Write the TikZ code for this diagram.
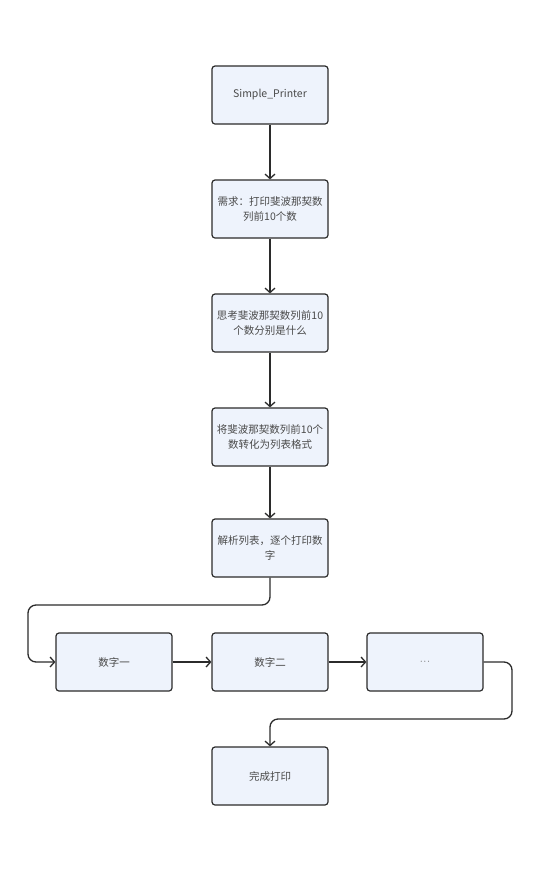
\documentclass[tikz,border=0pt]{standalone}
\usepackage{fontspec}
\setmainfont{Noto Sans CJK SC}
\usetikzlibrary{arrows.meta}
\definecolor{boxline}{HTML}{2B2B2B}
\definecolor{boxfill}{HTML}{EEF3FC}
\definecolor{textgray}{HTML}{4A4A4A}
\tikzset{
  stepbox/.style={draw=boxline, fill=boxfill, rounded corners=3pt, line width=1.2pt,
    minimum width=116pt, minimum height=58pt, inner sep=2pt, align=center,
    text=textgray, font=\fontsize{10.5}{15.5}\selectfont},
  link/.style={draw=boxline, line width=1.3pt, -{Straight Barb[length=4.5pt,width=10pt]}},
}
\begin{document}
\begin{tikzpicture}[x=1pt, y=-1pt]
        \useasboundingbox (0,0) rectangle (542,871);

        % main column
        \node[stepbox] (printer) at (270,95) {Simple\_Printer};
        \node[stepbox] (demand) at (270,209) {需求：打印斐波那契数\\列前10个数};
        \node[stepbox] (think) at (270,323) {思考斐波那契数列前10\\个数分别是什么};
        \node[stepbox] (convert) at (270,437) {将斐波那契数列前10个\\数转化为列表格式};
        \node[stepbox] (parse) at (270,548) {解析列表，逐个打印数\\字};

        % row of numbers
        \node[stepbox, text=gray!90!black] (numC) at (425,662) {$\cdot\!\cdot\!\cdot$};
        \node[stepbox] (numA) at (114,662) {数字一};
        \node[stepbox] (numB) at (270,662) {数字二};

        \node[stepbox] (done) at (270,776) {完成打印};

        \draw[link] (printer) -- (demand);
        \draw[link] (demand) -- (think);
        \draw[link] (think) -- (convert);
        \draw[link] (convert) -- (parse);

        \coordinate (loopL) at (28,605);
        \draw[link, rounded corners=8pt] (parse.south) |- (loopL) |- (numA.west);
        \draw[link] (numA) -- (numB);
        \draw[link] (numB) -- (numC);

        \coordinate (loopR) at (512,719);
        \draw[link, rounded corners=8pt] (numC.east) -| (loopR) -| (done.north);
\end{tikzpicture}
\end{document}
